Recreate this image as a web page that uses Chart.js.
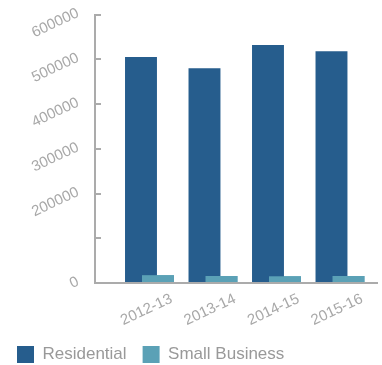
<!DOCTYPE html>
<html>
<head>
<meta charset="utf-8">
<script src="https://cdn.jsdelivr.net/npm/chart.js@4/dist/chart.umd.min.js"></script>
<style>
    body { margin: 0; background: #fff; }
    .chart-box { position: relative; width: 382px; height: 365px; }
</style>
</head>
<body>
<div class="chart-box"><canvas id="chartCustomers"></canvas></div>
<script>
var years = ['2012-13', '2013-14', '2014-15', '2015-16'];
var residential = [505000, 480000, 532000, 518000];
var smallBusiness = [17500, 15500, 15000, 15500];
var yTicks = [0, 100000, 200000, 300000, 400000, 500000, 600000];
var yTickLabels = ['0', '', '200000', '300000', '400000', '500000', '600000'];

var axisGray = '#ababab';

// build {x, y} points so the bars sit on a linear index axis
function toPoints(values) {
    return values.map(function (value, index) {
        return { x: index, y: value };
    });
}

// small business bars overlap the residential ones, paint them last
var smallBusinessOnTop = {
    id: 'smallBusinessOnTop',
    afterDatasetsDraw: function (chart) {
        chart.getDatasetMeta(1).controller.draw();
    }
};

Chart.defaults.font.family = "'Liberation Sans', Arial, sans-serif";

var ctx = document.getElementById('chartCustomers').getContext('2d');
var chart = new Chart(ctx, {
    type: 'bar',
    data: {
        datasets: [{
            label: 'Residential',
            data: toPoints(residential),
            backgroundColor: '#265d8d',
            borderWidth: 0
        }, {
            label: 'Small Business',
            data: toPoints(smallBusiness),
            backgroundColor: '#5ba1b6',
            borderWidth: 0
        }]
    },
    plugins: [smallBusinessOnTop],
    options: {
        responsive: true,
        maintainAspectRatio: false,
        animation: false,
        categoryPercentage: 0.535,
        barPercentage: 1.88,
        layout: {
            padding: { left: 1, right: 5, top: 14.5, bottom: -8 }
        },
        scales: {
            x: {
                type: 'linear',
                offset: false,
                min: -0.858,
                max: 3.583,
                afterFit: function (scale) { scale.height = 47; },
                grid: { display: false, drawTicks: false },
                border: { display: true, color: axisGray, width: 2 },
                ticks: {
                    stepSize: 1,
                    includeBounds: false,
                    autoSkip: false,
                    minRotation: 25,
                    maxRotation: 25,
                    padding: 7,
                    labelOffset: 22,
                    color: '#a8a8a8',
                    font: { size: 15 },
                    callback: function (value) {
                        return years[value];
                    }
                }
            },
            y: {
                min: 0,
                max: 600000,
                afterFit: function (scale) {
                    // labels are rotated, no need for extra room above/below
                    scale.width = 94;
                    scale.paddingTop = 0;
                    scale.paddingBottom = 0;
                },
                afterBuildTicks: function (scale) {
                    scale.ticks = yTicks.map(function (v) { return { value: v }; });
                },
                grid: {
                    drawOnChartArea: false,
                    drawTicks: true,
                    tickLength: -6,
                    color: axisGray,
                    lineWidth: 2
                },
                border: { display: true, color: axisGray, width: 2 },
                ticks: {
                    autoSkip: false,
                    minRotation: 25,
                    maxRotation: 25,
                    padding: 23,
                    labelOffset: -2,
                    color: '#a8a8a8',
                    font: { size: 15 },
                    callback: function (value) {
                        return yTickLabels[yTicks.indexOf(value)];
                    }
                }
            }
        },
        plugins: {
            tooltip: { enabled: false },
            legend: {
                position: 'bottom',
                align: 'start',
                labels: {
                    boxWidth: 17,
                    boxHeight: 17,
                    padding: 16,
                    color: '#999',
                    font: { size: 17 }
                }
            }
        }
    }
});
</script>
</body>
</html>
